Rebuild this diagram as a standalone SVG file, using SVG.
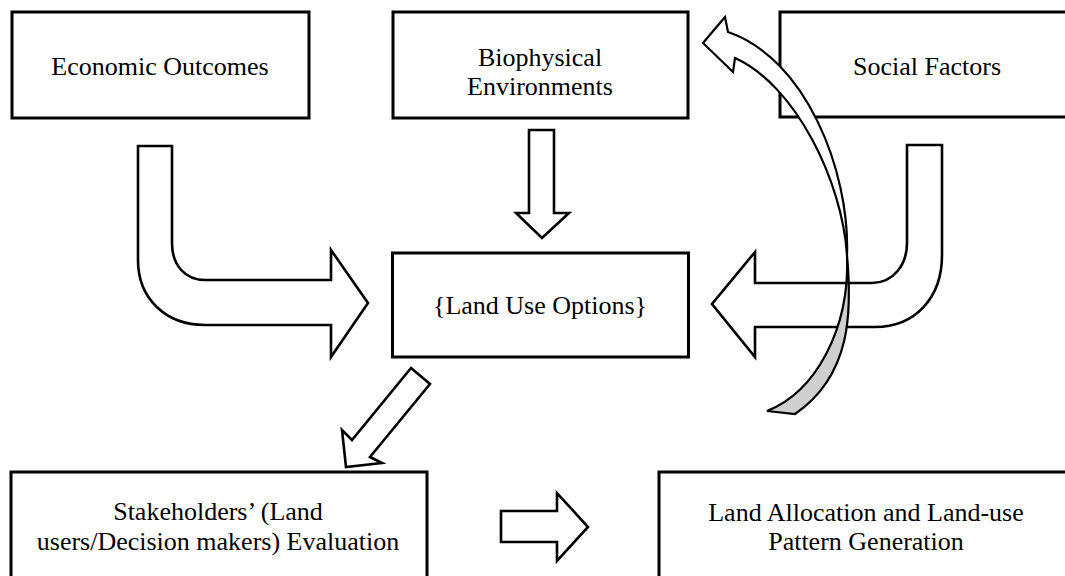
<svg xmlns="http://www.w3.org/2000/svg" width="1065" height="576" viewBox="0 0 1065 576">
<style>
.box{fill:#fff;stroke:#000;stroke-width:3}
.t{font-family:"Liberation Serif","Times New Roman",serif;font-size:26px;fill:#000;text-anchor:middle}
.arr{fill:#fff;stroke:#000;stroke-width:2.6;stroke-linejoin:miter}
.cv{stroke:#000;stroke-width:2.2;stroke-linejoin:miter}
</style>
<rect width="1065" height="576" fill="#fff"/>
<g id="economic">
<rect class="box" x="12" y="12" width="297" height="106"/>
<text class="t" x="160" y="75">Economic Outcomes</text>
</g>
<g id="biophysical">
<rect class="box" x="393" y="12" width="295" height="106"/>
<text class="t" x="540" y="66">Biophysical</text>
<text class="t" x="540" y="95">Environments</text>
</g>
<g id="social">
<rect class="box" x="780" y="12" width="300" height="105"/>
<text class="t" x="927" y="75">Social Factors</text>
</g>
<g id="landuse">
<rect class="box" x="392.5" y="253" width="296" height="104"/>
<text class="t" x="540" y="314">{Land Use Options}</text>
</g>
<g id="stakeholders">
<rect class="box" x="11" y="472" width="416" height="120"/>
<text class="t" x="218" y="520">Stakeholders’ (Land</text>
<text class="t" x="218" y="550">users/Decision makers) Evaluation</text>
</g>
<g id="allocation">
<rect class="box" x="659" y="472" width="420" height="120"/>
<text class="t" x="866" y="521">Land Allocation and Land-use</text>
<text class="t" x="866" y="550">Pattern Generation</text>
</g>
<g id="connectors">
<path class="arr" d="M138,146 L172,146 L172,243 C172,265 185,280 205,280 L331,280 L331,250 L368,303 L331,357 L331,325 L205,325 C165,325 138,298 138,260 Z"/>
<path class="arr" d="M907,145 L942,145 L942,255 C942,298 915,327 875,327 L755,327 L755,357 L712,304 L755,252 L755,283 L872,283 C893,283 907,265 907,243 Z"/>
<path class="arr" d="M529,130 L554,130 L554,213 L569,213 L542,238 L516,213 L529,213 Z"/>
<path class="arr" d="M411,368 L430,384 L370,457 L382,463 L346,467 L342,430 L352,440 Z"/>
<path class="arr" d="M501,511 L557,511 L557,493 L588,527 L557,561 L557,542 L501,542 Z"/>
<path class="cv" fill="#fff" d="M728,32 C805,58 850,170 847,255 C842,180 795,85 735,58 L733,72 L703,43 L725,17 Z"/>
<path class="cv" fill="#cfcfcf" d="M847,255 C852,310 852,375 795,414 L767,411 C815,392 850,330 847,255 Z"/>
</g>
</svg>
